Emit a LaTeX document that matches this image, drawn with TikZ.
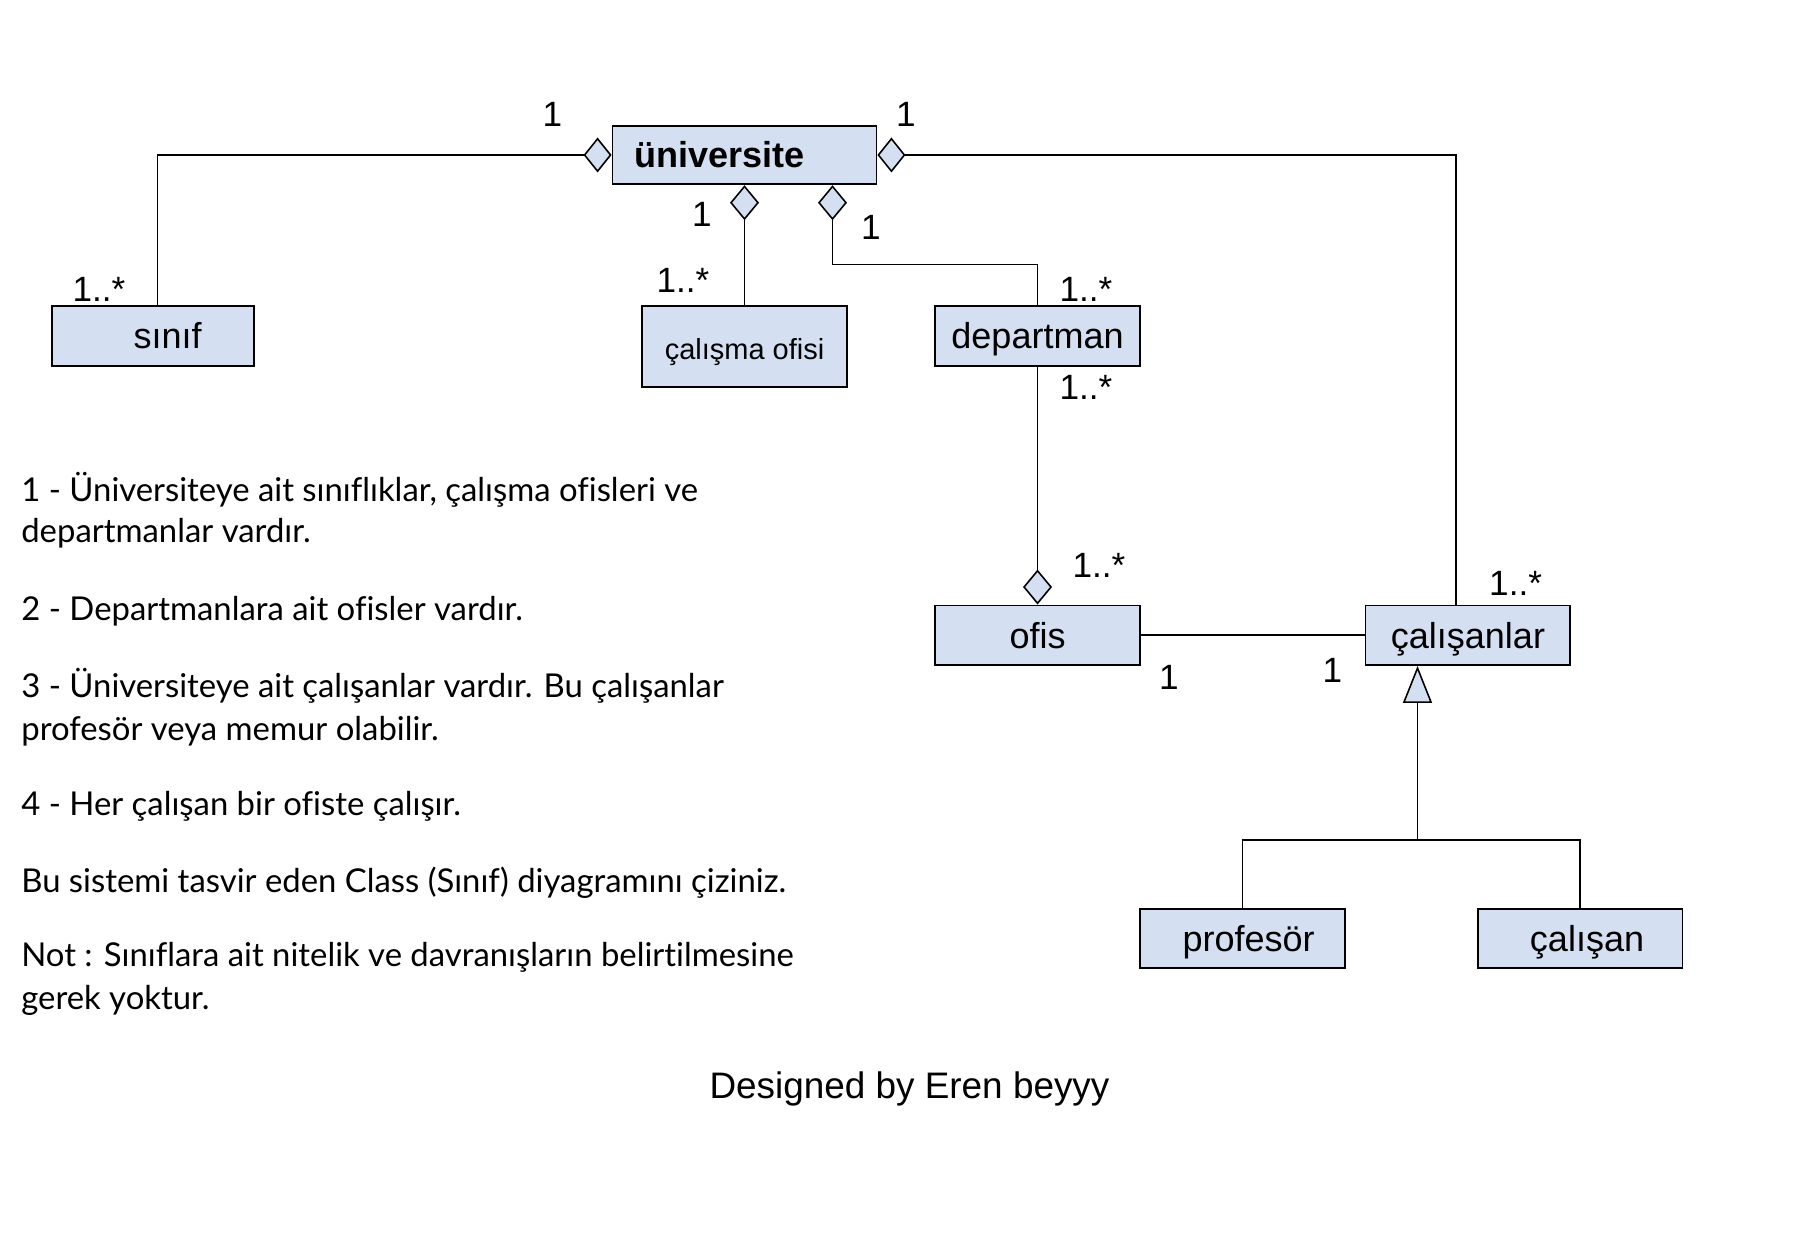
\documentclass[tikz,border=0pt]{standalone}
\usepackage{fontspec}
\setmainfont{Liberation Sans}
\newfontfamily\notefont[Ligatures=NoCommon]{Lato}
\usepackage{xcolor}
\usepackage{tikz}
\usetikzlibrary{positioning,arrows.meta}
\definecolor{boxblue}{HTML}{D4E0F1}

\begin{document}
\begin{tikzpicture}[
x=0.02cm, y=-0.02cm,
box/.style={rectangle, draw=black, fill=boxblue, line width=1.1pt, minimum width=4.1cm, minimum height=1.19cm, inner sep=0pt, text height=0.66cm, text depth=0.14cm, font=\fontsize{20.5}{24}\selectfont},
mult/.style={anchor=base, inner sep=0pt, font=\fontsize{20}{24}\selectfont},
note/.style={anchor=base west, inner sep=0pt, font=\notefont\fontsize{18.7}{22}\selectfont},
link/.style={line width=0.9pt},
parth/.style={link, -{Diamond[length=0.56cm, width=0.7cm, fill=boxblue]}},
partv/.style={link, -{Diamond[length=0.7cm, width=0.58cm, fill=boxblue]}},
inherit/.style={link, -{Triangle[length=0.74cm, width=0.58cm, fill=boxblue]}}
]
\fill[white] (0,0) rectangle (1802,1236);
\useasboundingbox (0,0) rectangle (1802,1236);

\node[box, minimum width=5.28cm, minimum height=1.17cm](universite) at (744.5,155){\textbf{üniversite}\hspace*{1cm}};
\node[box, minimum height=1.62cm, font=\fontsize{16.5}{20}\selectfont](calisma_ofisi)[below of = universite, node distance=3.83cm]{çalışma ofisi};
\node[box, minimum width=4.04cm, minimum height=1.2cm](sinif) at (152.7,335.8){\hspace*{0.6cm}sınıf};
\node[box, minimum height=1.2cm](departman)[right of = sinif, node distance=17.7cm]{departman};
\node[box](ofis)[below of = departman, node distance=5.99cm]{ofis};
\node[box](calisanlar)[right of = ofis, node distance=8.61cm]{çalışanlar};
\node[box](profesor) at (1242.6,938.7){\hspace*{0.24cm}profesör};
\node[box](calisan)[right of = profesor, node distance=6.75cm]{\hspace*{0.28cm}çalışan};

\coordinate (dep_bend) at (832.5,264.3);
\coordinate (gen_join) at (1417.5,840);

\draw[parth] ([xshift=0.1cm]sinif.north) |- (universite.west);
\draw[parth] ([xshift=-0.24cm]calisanlar.north) |- (universite.east);
\draw[partv] (calisma_ofisi.north) -- (universite.south);
\draw[partv] (departman.north) |- (dep_bend) -- (dep_bend |- universite.south);
\draw[partv] (departman.south) -- (ofis.north);
\draw[link] (ofis.east) -- (calisanlar.west);
\draw[link] (profesor.north) |- (gen_join) -| (calisan.north);
\draw[inherit] (gen_join) -- (gen_join |- calisanlar.south);

\node[mult](m_sinif) at (99,302){1..*};
\node[mult](m_uni_left) at (552.5,127){1};
\node[mult](m_uni_right) at (906,127){1};
\node[mult](m_calisma_top) at (702,227){1};
\node[mult](m_calisma) at (683,293){1..*};
\node[mult](m_dep_uni) at (871,240){1};
\node[mult](m_dep_top) at (1086,302){1..*};
\node[mult](m_dep_bottom) at (1086,400){1..*};
\node[mult](m_ofis_top) at (1099,578){1..*};
\node[mult](m_cal_top) at (1515.6,596){1..*};
\node[mult](m_ofis_right) at (1169,689){1};
\node[mult](m_cal_left) at (1332.5,682){1};

\node[note](note1a) at (21,502){1 - Üniversiteye ait sınıflıklar, çalışma ofisleri ve};
\node[note](note1b) at (21,542){departmanlar vardır.};
\node[note](note2) at (21,621){2 - Departmanlara ait ofisler vardır.};
\node[note](note3a) at (21,697){3 - Üniversiteye ait çalışanlar vardır. Bu çalışanlar};
\node[note](note3b) at (21,740){profesör veya memur olabilir.};
\node[note](note4) at (21,815){4 - Her çalışan bir ofiste çalışır.};
\node[note](note5) at (21,892){Bu sistemi tasvir eden Class (Sınıf) diyagramını çiziniz.};
\node[note](note6a) at (21,966){Not : Sınıflara ait nitelik ve davranışların belirtilmesine};
\node[note](note6b) at (21,1009){gerek yoktur.};

\node[anchor=base, font=\fontsize{21}{25}\selectfont](credit) at (909.5,1098){Designed by Eren beyyy};

\end{tikzpicture}
\end{document}
